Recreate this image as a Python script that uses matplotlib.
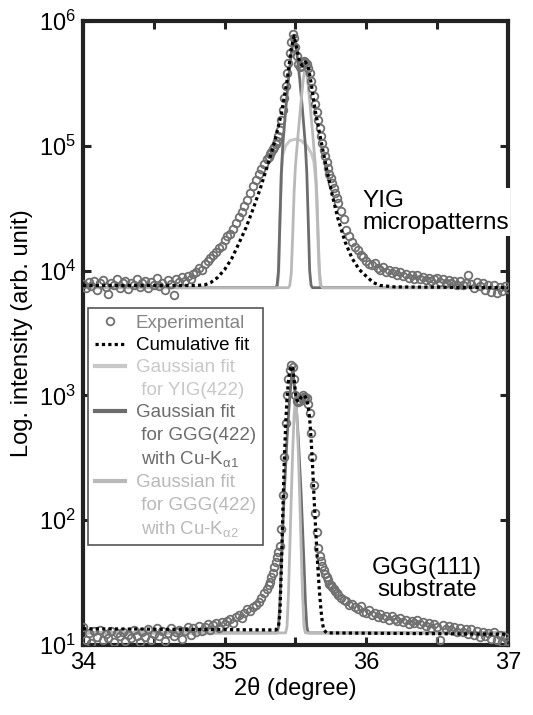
"""
XRD 2theta scan of YIG micropatterns and GGG(111) substrate (log scale)
with cumulative fit and Gaussian components.
"""
import numpy as np
import matplotlib
matplotlib.use("Agg")
import matplotlib.pyplot as plt
from matplotlib.lines import Line2D

plt.rcParams["font.family"] = ["Liberation Sans", "DejaVu Sans"]
plt.rcParams["mathtext.fontset"] = "custom"
plt.rcParams["mathtext.rm"] = "Liberation Sans"
plt.rcParams["mathtext.it"] = "Liberation Sans:italic"
plt.rcParams["mathtext.default"] = "regular"

OUT = "out.png"

# ── Experimental scans (three scan segments, y in counts) ──────────────────────
# segment a: 34.00-35.28 (0.02 step), b: 35.30-35.79 (0.01), c: 35.80-37.00 (0.02)
yig_exp_a = [7.8, 7.2, 8.1, 7.5, 8.3, 7.0, 7.9, 8.4, 7.4, 6.5,
             8.0, 7.6, 8.6, 7.3, 7.9, 8.2, 7.1, 8.0, 7.7, 8.5,
             7.4, 7.9, 8.2, 7.2, 8.1, 7.6, 8.8, 7.5, 8.0, 7.0,
             8.4, 7.8, 6.4, 8.6, 8.1, 8.9, 8.3, 9.0, 8.6, 9.4,
             9.8, 10.5, 10.1, 11.3, 12.0, 12.6, 13.3, 14.0, 15.2, 15.8,
             17.5, 18.8, 19.6, 21.5, 24.0, 27.0, 29.5, 33.0, 37.0, 42.0,
             48.0, 53.0, 59.0, 65.0, 72.0]
yig_exp_b = [78, 82, 86, 90, 94, 98, 103, 110, 120, 135,
             160, 195, 240, 300, 380, 460, 550, 680, 780, 730,
             620, 520, 450, 430, 440, 460, 480, 470, 450, 420,
             380, 330, 290, 250, 215, 185, 160, 140, 120, 105,
             93, 83, 74, 66, 60, 55, 50, 46, 42, 38]
yig_exp_c = [35, 30, 26, 21, 19, 17, 15.5, 14.5, 13.4, 12.8,
             12.0, 11.4, 11.0, 11.6, 10.5, 10.2, 10.7, 9.8, 10.1, 9.5,
             9.9, 9.2, 9.7, 9.0, 9.4, 8.8, 9.2, 8.6, 9.3, 8.5,
             8.9, 8.4, 8.8, 8.2, 8.6, 8.7, 8.1, 8.5, 8.0, 8.4,
             7.9, 8.3, 7.7, 8.2, 7.6, 8.0, 9.3, 7.8, 7.3, 8.1,
             7.5, 7.9, 7.0, 7.7, 6.8, 7.6, 6.6, 7.4, 6.9, 7.5,
             7.1]

ggg_exp_a = [14.0, 11.0, 12.5, 10.4, 12.9, 11.6, 13.2, 10.9, 12.2, 11.4,
             13.0, 10.6, 12.4, 11.8, 12.8, 10.8, 12.1, 11.3, 13.1, 11.9,
             10.5, 12.6, 11.5, 13.4, 11.0, 12.3, 13.6, 11.7, 12.9, 10.7,
             12.5, 13.8, 11.9, 12.7, 13.3, 11.2, 12.9, 14.0, 12.1, 13.6,
             12.8, 14.2, 13.0, 13.9, 14.6, 13.2, 14.4, 15.0, 13.8, 15.2,
             14.6, 15.6, 16.2, 15.0, 16.8, 17.3, 16.5, 18.0, 19.5, 18.6,
             20.0, 21.0, 22.0, 24.0, 26.0]
ggg_exp_b = [28, 30, 32, 35, 38, 42, 46, 51, 56, 62,
             85, 160, 320, 600, 1000, 1350, 1600, 1750, 1700, 1350,
             1000, 900, 880, 910, 960, 1000, 980, 970, 950, 850,
             720, 500, 320, 190, 115, 80, 60, 52, 47, 43,
             40, 37, 35, 33, 31, 30, 29, 28, 27, 26]
ggg_exp_c = [25, 24, 23, 22.5, 21, 21.5, 20, 19.5, 20.5, 18.5,
             18, 19, 17.5, 18.2, 16.8, 17.6, 16.5, 17.2, 16.0, 17.0,
             16.3, 15.5, 16.6, 15.2, 16.0, 14.8, 15.6, 15.0, 15.8, 14.6,
             15.2, 14.2, 15.0, 13.6, 14.8, 14.0, 11.0, 14.4, 13.5, 14.2,
             13.2, 14.0, 12.8, 13.8, 12.6, 13.5, 12.2, 13.4, 12.0, 13.0,
             11.6, 12.8, 11.8, 12.4, 11.2, 12.6, 11.0, 12.0, 10.6, 11.5,
             10.8]

# ── Fits (YIG in units of 1e3 counts) ──────────────────────────────────────────
yig_fit_x = [34.00, 34.80, 34.86, 34.90, 34.95, 35.00, 35.05, 35.10, 35.15, 35.20,
             35.25, 35.30, 35.35, 35.40, 35.44, 35.47, 35.49, 35.51, 35.53, 35.55,
             35.57, 35.59, 35.61, 35.64, 35.68, 35.72, 35.76, 35.80, 35.85, 35.90,
             35.95, 36.00, 36.05, 36.10, 36.20, 37.00]
yig_fit_y = [7.6, 7.6, 7.7, 8.0, 8.8, 10.2, 12.5, 16.5, 22, 31,
             45, 68, 105, 180, 330, 600, 760, 600, 460, 440,
             470, 430, 320, 190, 110, 65, 40, 26, 17, 12.5,
             10.2, 9.0, 8.0, 7.6, 7.4, 7.3]

yig_g_x = [34.00, 35.37, 35.38, 35.39, 35.40, 35.41, 35.43, 35.46, 35.50, 35.54,
           35.58, 35.61, 35.63, 35.645, 35.655, 35.665, 35.675, 35.69, 37.00]
yig_g_y = [7.3, 7.3, 9.0, 25, 60, 85, 100, 110, 113, 110,
           100, 88, 75, 50, 25, 11, 7.6, 7.3, 7.3]

yig_ka1_x = [34.00, 35.36, 35.37, 35.38, 35.39, 35.40, 35.41, 35.43, 35.45, 35.47,
             35.49, 35.51, 35.53, 35.55, 35.57, 35.58, 35.59, 35.60, 35.61, 35.62, 37.00]
yig_ka1_y = [7.3, 7.3, 7.6, 10, 25, 60, 100, 190, 340, 550,
             740, 550, 340, 190, 100, 60, 25, 10, 7.6, 7.3, 7.3]

yig_ka2_x = [34.00, 35.45, 35.46, 35.47, 35.48, 35.49, 35.50, 35.52, 35.54, 35.555,
             35.57, 35.585, 35.60, 35.62, 35.64, 35.65, 35.66, 35.67, 35.68, 35.69, 37.00]
yig_ka2_y = [7.3, 7.3, 7.6, 9.5, 19, 42, 70, 130, 230, 340,
             450, 340, 230, 130, 70, 42, 19, 9.5, 7.6, 7.3, 7.3]

ggg_fit_x = [34.00, 35.36, 35.38, 35.39, 35.40, 35.41, 35.42, 35.43, 35.44, 35.45,
             35.46, 35.47, 35.48, 35.49, 35.50, 35.51, 35.52, 35.53, 35.54, 35.55,
             35.56, 35.57, 35.58, 35.59, 35.60, 35.61, 35.62, 35.63, 35.64, 35.65,
             35.66, 35.67, 35.68, 35.69, 35.70, 35.72, 37.00]
ggg_fit_y = [13.5, 13.2, 14, 18, 40, 110, 280, 560, 950, 1300,
             1580, 1720, 1650, 1350, 1050, 920, 890, 920, 970, 1000,
             1000, 970, 920, 820, 650, 450, 280, 160, 95, 58,
             38, 26, 19, 15, 13.2, 12.5, 12.2]

ggg_ka1_x = [34.00, 35.37, 35.38, 35.39, 35.40, 35.42, 35.44, 35.46, 35.48, 35.50,
             35.52, 35.54, 35.56, 35.57, 35.58, 35.59, 37.00]
ggg_ka1_y = [12.5, 12.5, 14, 22, 45, 160, 450, 1000, 1650, 1000,
             450, 160, 45, 22, 14, 12.5, 12.5]

ggg_ka2_x = [34.00, 35.43, 35.44, 35.45, 35.46, 35.47, 35.48, 35.49, 35.50, 35.51,
             35.52, 35.53, 35.54, 35.55, 35.56, 35.57, 37.00]
ggg_ka2_y = [12.5, 12.5, 14, 25, 60, 150, 350, 700, 950, 700,
             350, 150, 60, 25, 14, 12.5, 12.5]

# ── Build scan axis ────────────────────────────────────────────────────────────
def scan_x(a, b, c):
    return np.concatenate([np.linspace(34.00, 35.28, len(a)),
                           np.linspace(35.30, 35.79, len(b)),
                           np.linspace(35.80, 37.00, len(c))])

x_yig = scan_x(yig_exp_a, yig_exp_b, yig_exp_c)
y_yig = np.array(yig_exp_a + yig_exp_b + yig_exp_c) * 1e3
x_ggg = scan_x(ggg_exp_a, ggg_exp_b, ggg_exp_c)
y_ggg = np.array(ggg_exp_a + ggg_exp_b + ggg_exp_c)

C_EXP = "#707070"
C_YIG = "#c8c8c8"
C_KA1 = "#6c6c6c"
C_KA2 = "#b9b9b9"
DOT = (0, (1, 1))

# ── Plot ───────────────────────────────────────────────────────────────────────
fig = plt.figure(figsize=(5.33, 7.15), dpi=100)
ax = fig.add_axes([0.1557, 0.0979, 0.7974, 0.8727])

for xs, ys in [(x_yig, y_yig), (x_ggg, y_ggg)]:
    ax.plot(xs, ys, ls="none", marker="o", ms=5.5, mfc="none", mec=C_EXP,
            mew=1.3, zorder=3)

ax.plot(yig_g_x, np.array(yig_g_y) * 1e3, color=C_YIG, lw=2.2, zorder=2)
ax.plot(yig_ka1_x, np.array(yig_ka1_y) * 1e3, color=C_KA1, lw=2.0, zorder=2)
ax.plot(yig_ka2_x, np.array(yig_ka2_y) * 1e3, color=C_KA2, lw=2.0, zorder=2)
ax.plot(ggg_ka1_x, ggg_ka1_y, color=C_KA1, lw=2.0, zorder=2)
ax.plot(ggg_ka2_x, ggg_ka2_y, color=C_KA2, lw=2.0, zorder=2)

ax.plot(yig_fit_x, np.array(yig_fit_y) * 1e3, color="k", ls=DOT, lw=2.3, zorder=4)
ax.plot(ggg_fit_x, ggg_fit_y, color="k", ls=DOT, lw=2.3, zorder=4)

ax.set_yscale("log")
ax.set_xlim(34, 37)
ax.set_ylim(10, 1e6)
ax.set_xticks(np.arange(34, 37.01, 0.5))
ax.set_xticklabels(["34", "", "35", "", "36", "", "37"])
ax.set_yticks([1e1, 1e2, 1e3, 1e4, 1e5, 1e6])
ax.minorticks_off()
ax.tick_params(direction="in", length=6, width=2.2, top=True, right=True,
               labelsize=17, pad=5, colors="#222222", labelcolor="black")
for sp in ax.spines.values():
    sp.set_linewidth(3.0)
    sp.set_color("#222222")

ax.set_xlabel("2θ (degree)", fontsize=17, labelpad=2)
ax.set_ylabel("Log. intensity (arb. unit)", fontsize=17, labelpad=4)

ax.text(35.97, 2.95e4, "YIG\nmicropatterns", fontsize=17.5, ha="left", va="center",
        linespacing=1.05, zorder=6, clip_on=False,
        bbox=dict(facecolor="white", edgecolor="none", pad=1))
ax.text(36.43, 34, "GGG(111)\nsubstrate", fontsize=17.5, ha="center", va="center",
        linespacing=1.0, zorder=6)

# Legend
blank = Line2D([], [], ls="none")
handles = [
    Line2D([], [], ls="none", marker="o", ms=5.5, mfc="none", mec=C_EXP, mew=1.3),
    Line2D([], [], color="k", ls=DOT, lw=2.3),
    Line2D([], [], color=C_YIG, lw=3), blank,
    Line2D([], [], color=C_KA1, lw=3), blank, blank,
    Line2D([], [], color=C_KA2, lw=3), blank, blank,
]
labels = ["Experimental", "Cumulative fit",
          "Gaussian fit", " for YIG(422)",
          "Gaussian fit", " for GGG(422)", " with Cu-K$_{\\mathrm{α1}}$",
          "Gaussian fit", " for GGG(422)", " with Cu-K$_{\\mathrm{α2}}$"]
text_colors = ["#858585", "black", C_YIG, C_YIG, C_KA1, C_KA1, C_KA1,
               C_KA2, C_KA2, C_KA2]
leg = ax.legend(handles, labels, loc="upper left", bbox_to_anchor=(0.012, 0.54),
                borderaxespad=0, fontsize=13.5, frameon=True, fancybox=False,
                framealpha=1, edgecolor="#555555", handlelength=1.6,
                handletextpad=0.6, labelspacing=0.28, borderpad=0.35)
leg.get_frame().set_linewidth(1.2)
for t, c in zip(leg.get_texts(), text_colors):
    t.set_color(c)
leg.set_zorder(7)

fig.savefig(OUT, dpi=100)
print("Saved", OUT)
